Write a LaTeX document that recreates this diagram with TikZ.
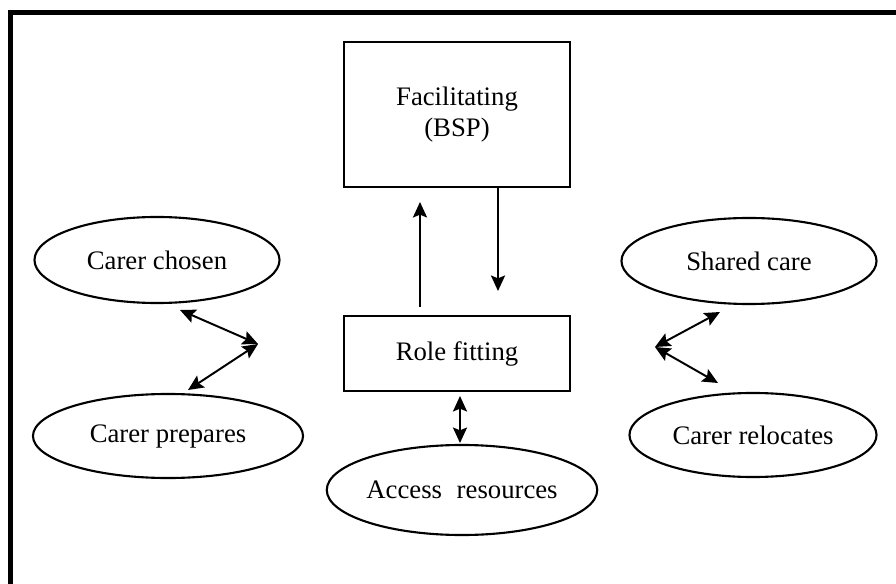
\documentclass[tikz,border=0pt]{standalone}
\usepackage{fontspec}
\setmainfont{Liberation Serif}
\usetikzlibrary{shapes.geometric,arrows.meta}
\tikzset{
  box/.style={draw, line width=1.5pt, minimum width=5.65cm, inner sep=0pt, align=center, font=\fontsize{19}{21.5}\selectfont},
  oval/.style={draw, ellipse, line width=1.5pt, inner sep=0pt, font=\fontsize{19}{22}\selectfont},
  link/.style={line width=1.4pt, {Stealth[length=11pt,width=10pt,inset=2pt]}-{Stealth[length=11pt,width=10pt,inset=2pt]}},
  oneway/.style={line width=1.4pt, -{Stealth[length=11pt,width=10pt,inset=2pt]}}
}
\begin{document}
\begin{tikzpicture}[x=0.025cm, y=-0.025cm]
    \useasboundingbox (0,0) rectangle (896,584);
    %Frame (only top and left edges show)
    \draw[line width=3.6pt] (10.5,584) -- (10.5,12.5) -- (896,12.5);

    % Boxes in the middle
    \node[box, minimum height=3.625cm] (facil) at (457,114.5) {Facilitating\\(BSP)};
    \node[box, minimum height=1.875cm] (role) at (457,353.5) {Role fitting};

    % Ellipses
    \node[oval, minimum width=6.125cm, minimum height=2.15cm] (chosen) at (157,260) {Carer chosen};
    \node[oval, minimum width=6.75cm, minimum height=2.1cm] (prepares) at (168,436) {Carer prepares};
    \node[oval, minimum width=6.375cm, minimum height=2.15cm] (shared) at (749,261) {Shared care};
    \node[oval, minimum width=6.175cm, minimum height=2.1cm] (relocates) at (753,435) {Carer relocates};
    \node[oval, minimum width=6.125cm, minimum height=2.25cm] (access) at (462,490) {Access\hspace{0.3em} resources};

    % Arrow ends
    \coordinate (upfoot) at (420,307);
    \coordinate (uptip) at (420,202);
    \coordinate (downtip) at (498,291);
    \coordinate (lvertex) at (258,344);
    \coordinate (ltop) at (180,310);
    \coordinate (lbot) at (188,390);
    \coordinate (rvertex) at (655,347);
    \coordinate (rtop) at (720,312);
    \coordinate (rbot) at (718,383);
    \coordinate (dtop) at (460,396);
    \coordinate (dbot) at (460,443);

    % Between the boxes
    \draw[oneway] (upfoot) -- (uptip);
    \draw[oneway] (facil.south -| downtip) -- (downtip);
    \draw[link] (dtop) -- (dbot);

    % Left and right pairs
    \draw[link] (ltop) -- (lvertex);
    \draw[link] (lbot) -- (lvertex);
    \draw[link] (rtop) -- (rvertex);
    \draw[link] (rbot) -- (rvertex);
\end{tikzpicture}
\end{document}
